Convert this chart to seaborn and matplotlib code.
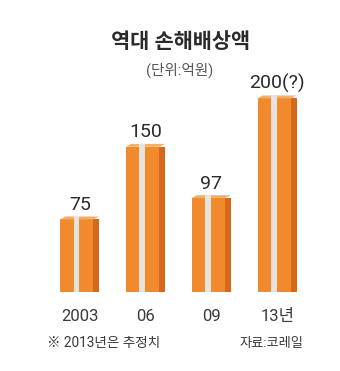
import matplotlib
matplotlib.use("Agg")
import matplotlib.pyplot as plt
import matplotlib.patches as mpatches
import pandas as pd
import seaborn as sns

# data
years = ["2003", "06", "09", "13년"]
amounts = [75, 150, 97, 200]
value_labels = ["75", "150", "97", "200(?)"]

title = "역대 손해배상액"
unit_note = "(단위:억원)"
footnote = "※ 2013년은 추정치"
source = "자료:코레일"

ORANGE = "#F08A2C"
DARK = "#D5681A"
TOP = "#F8AE62"
STRIPE = "#E7E3DF"
TEXT = "#2A2A2A"

sns.set_theme(style="white")
plt.rcParams["font.family"] = ["Roboto", "Noto Sans CJK KR", "DejaVu Sans"]

df = pd.DataFrame({"year": years, "amount": amounts})

fig = plt.figure(figsize=(3.4, 3.71), dpi=100)
ax = fig.add_axes([0.138, 0.213, 0.774, 0.574])

sns.barplot(data=df, x="year", y="amount", color=ORANGE, saturation=1,
            width=0.59, ax=ax)

# fake 3d look: light stripe, darker right face, lighter top
for p in list(ax.patches):
    x, w, h = p.get_x(), p.get_width(), p.get_height()
    p.set_edgecolor("none")
    ax.add_patch(mpatches.Rectangle((x + w * 0.85, 0), w * 0.15, h,
                                    color=DARK, lw=0, zorder=3))
    ax.add_patch(mpatches.Rectangle((x + w * 0.34, 0), w * 0.15, h + 3,
                                    color=STRIPE, lw=0, zorder=4))
    ax.add_patch(mpatches.Polygon([(x, h), (x + w * 0.12, h + 3),
                                   (x + w, h + 3), (x + w * 0.85, h)],
                                  closed=True, color=TOP, lw=0, zorder=3))

ax.bar_label(ax.containers[0], labels=value_labels, padding=4,
             fontsize=14, color=TEXT)

ax.set_ylim(0, 220)
ax.set_xlim(-0.5, 3.5)
ax.set_xlabel("")
ax.set_ylabel("")
ax.set_yticks([])
ax.tick_params(axis="x", length=0, pad=12, labelsize=12, labelcolor="#3A3A3A")
sns.despine(ax=ax, left=True, bottom=True)

fig.text(0.53, 0.887, title, ha="center", va="center", fontsize=15,
         fontweight="bold", color=TEXT)
fig.text(0.527, 0.811, unit_note, ha="center", va="center", fontsize=10.5,
         color="#555555")
fig.text(0.138, 0.075, footnote, ha="left", va="center", fontsize=9.8,
         color="#3A3A3A")
fig.text(0.892, 0.075, source, ha="right", va="center", fontsize=9.5,
         color="#3A3A3A")

fig.savefig("out.png", dpi=100, facecolor="white")
